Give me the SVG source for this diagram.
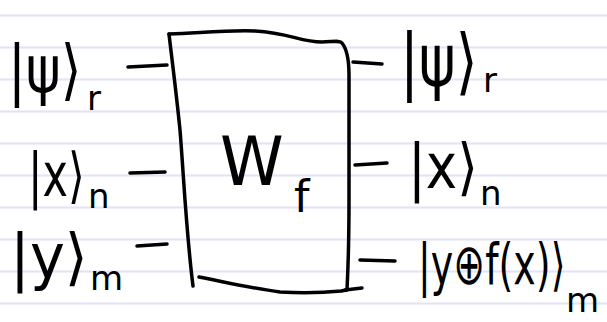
<svg xmlns="http://www.w3.org/2000/svg" width="607" height="322" viewBox="0 0 607 322">
<style>
.rule{stroke:#e2e2fa;stroke-width:2}
.ink{fill:none;stroke:#000;stroke-width:3.5;stroke-linecap:round;stroke-linejoin:round}
.t{font-family:"DejaVu Sans",sans-serif;fill:#000}
.s{font-family:"DejaVu Sans",sans-serif;fill:#000;font-size:34px}
</style>
<rect width="607" height="322" fill="#fff"/>
<g id="paper">
<line class="rule" x1="0" y1="15.5" x2="607" y2="15.5"/>
<line class="rule" x1="0" y1="47.5" x2="607" y2="47.5"/>
<line class="rule" x1="0" y1="79.5" x2="607" y2="79.5"/>
<line class="rule" x1="0" y1="111.5" x2="607" y2="111.5"/>
<line class="rule" x1="0" y1="143.5" x2="607" y2="143.5"/>
<line class="rule" x1="0" y1="175.5" x2="607" y2="175.5"/>
<line class="rule" x1="0" y1="207.5" x2="607" y2="207.5"/>
<line class="rule" x1="0" y1="239.5" x2="607" y2="239.5"/>
<line class="rule" x1="0" y1="271.5" x2="607" y2="271.5"/>
<line class="rule" x1="0" y1="303.5" x2="607" y2="303.5"/>
</g>
<g id="gate">
<path class="ink" d="M169,34 C200,33 225,30 255,31 C290,33 300,42 322,42 C332,42 340,40 342,43 C346,48 349,58 349,75 L349,200 C349,240 348,270 347,290 L341,291 C320,293 300,293 280,292 C250,288 225,282 199,277"/>
<path class="ink" d="M169,34 C172,60 176,90 180,130 C184,180 186,230 193,286"/>
<path class="ink" d="M345,290 L362,288"/>
<text class="t" font-size="56" transform="translate(220,185) scale(1.15,1.2)">W</text>
<text class="t" font-size="44" x="294" y="212">f</text>
</g>
<g id="connectors">
<path class="ink" d="M128,67 L167,65"/>
<path class="ink" d="M130,173 L165,172"/>
<path class="ink" d="M137,246 L167,244"/>
<path class="ink" d="M353,62 L382,64"/>
<path class="ink" d="M355,165 L387,163"/>
<path class="ink" d="M360,260 L395,261"/>
</g>
<g id="in-psi">
<text class="t" font-size="53" transform="translate(8,92) scale(1,1.25)">|ψ⟩</text>
<text class="s" x="87" y="110">r</text>
</g>
<g id="in-x">
<text class="t" font-size="43" transform="translate(28,196) scale(1,1.4)">|x⟩</text>
<text class="s" x="88" y="208">n</text>
</g>
<g id="in-y">
<text class="t" font-size="59" transform="translate(10,278) scale(1,1.05)">|y⟩</text>
<text class="s" x="90" y="290">m</text>
</g>
<g id="out-psi">
<text class="t" font-size="56" transform="translate(400,86) scale(1,1.29)">|ψ⟩</text>
<text class="s" x="483" y="92">r</text>
</g>
<g id="out-x">
<text class="t" font-size="53" transform="translate(408,188) scale(1,1.17)">|x⟩</text>
<text class="s" x="480" y="205">n</text>
</g>
<g id="out-y">
<text class="t" font-size="38" transform="translate(418,284) scale(1,1.5)">|y⊕f(x)⟩</text>
<text class="s" x="566" y="312">m</text>
</g>
</svg>
